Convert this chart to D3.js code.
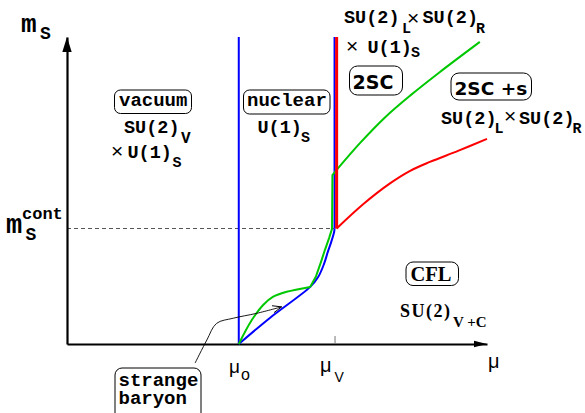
<!DOCTYPE html>
<html>
<head>
<meta charset="utf-8">
<script src="https://cdn.jsdelivr.net/npm/d3@7/dist/d3.min.js"></script>
<style>
  html, body { margin: 0; padding: 0; background: #fff; }
  svg { display: block; }
</style>
</head>
<body>
<svg id="chart" width="585" height="413"></svg>
<script>
// ---------- data (arbitrary units: mu and m_s both on 0..100) ----------
const mu0 = 40.9;          // μ_o
const muV = 63.7;          // μ_V
const mCont = 37.6;        // m_s^cont

const blueBoundary = [[40.9,0],[48.3,8.5],[57.9,18.6],[59.8,21.8],[61.2,26.1],[62.1,30.0],[62.9,33.2],[63.6,36.5],[63.7,37.6]];
const blueVertical = [[63.7,37.6],[63.7,100]];
const blueMu0 = [[40.9,0],[40.9,100]];

const greenLow  = [[40.9,0],[44.0,7.8],[46.7,12.7],[49.1,15.4],[52.3,17.0],[57.9,18.6]];
const greenMid  = [[57.9,18.6],[59.3,22.1],[60.4,26.4],[61.4,30.6],[62.4,34.5],[63.1,37.5],[63.2,55.0],[64.2,56.7]];
const greenHigh = [[64.2,56.7],[69.8,65.5],[75.7,73.8],[81.7,80.9],[88.8,88.6],[98.3,98.4]];

const redVertical = [[64.2,37.6],[64.2,100]];
const redCurve = [[64.2,37.6],[70.5,45.5],[76.9,52.3],[81.7,56.4],[86.4,59.3],[93.1,62.9],[100,66.8]];

const strangeArrow = [[30.5,-6.2],[33.3,1.3],[35.6,6.7],[39.6,8.4],[45.2,10.0],[51.1,12.1]];

const xTickValues = [muV];

// ---------- setup ----------
const svg = d3.select("#chart");
const x = d3.scaleLinear().domain([0,100]).range([67,487]);
const y = d3.scaleLinear().domain([0,100]).range([344,37]);

const MONO = "'Liberation Mono','DejaVu Sans Mono',monospace";
const SANS = "'Liberation Sans',Arial,sans-serif";
const DSANS = "'DejaVu Sans',sans-serif";
const SERIF = "'Liberation Serif','Times New Roman',serif";

const BLUE = "#0000ff", GREEN = "#00c800", RED = "#ff0000";

const lineLin = d3.line().x(d => x(d[0])).y(d => y(d[1]));
const lineSmooth = d3.line().x(d => x(d[0])).y(d => y(d[1])).curve(d3.curveCatmullRom.alpha(0.5));

// dashed m_s^cont line
svg.append("line")
  .attr("x1", x(0)).attr("x2", x(muV))
  .attr("y1", y(mCont)).attr("y2", y(mCont))
  .attr("stroke", "#555").attr("stroke-width", 1.1).attr("stroke-dasharray", "4,3");

// axes
const xAxis = d3.axisBottom(x).tickValues(xTickValues).tickSizeInner(-8).tickSizeOuter(0).tickFormat("");
const gx = svg.append("g").attr("transform", `translate(0,${y(0)})`).call(xAxis);
gx.select(".domain").attr("stroke", "#000").attr("stroke-width", 2.2);
gx.selectAll(".tick line").attr("stroke", "#777").attr("stroke-width", 1);

const yAxis = d3.axisLeft(y).tickValues([]).tickSizeOuter(0);
const gy = svg.append("g").attr("transform", `translate(${x(0)},0)`).call(yAxis);
gy.select(".domain").attr("stroke", "#000").attr("stroke-width", 2.2);

// arrowheads
svg.append("path")
  .attr("d", `M${x(100)},${y(0)} L${x(100)-13},${y(0)-3.2} L${x(100)-13},${y(0)+3.2} Z`)
  .attr("fill", "#000");
svg.append("path")
  .attr("d", `M${x(0)},${y(100)} L${x(0)-4.7},${y(100)+15} L${x(0)+4.7},${y(100)+15} Z`)
  .attr("fill", "#000");

// phase boundaries
svg.append("path").attr("d", lineLin(blueMu0)).attr("fill","none").attr("stroke",BLUE).attr("stroke-width",2);
svg.append("path").attr("d", lineSmooth(blueBoundary)).attr("fill","none").attr("stroke",BLUE).attr("stroke-width",2);
svg.append("path").attr("d", lineLin(blueVertical)).attr("fill","none").attr("stroke",BLUE).attr("stroke-width",2);

svg.append("path").attr("d", lineSmooth(greenLow)).attr("fill","none").attr("stroke",GREEN).attr("stroke-width",2);
svg.append("path").attr("d", lineLin(greenMid)).attr("fill","none").attr("stroke",GREEN).attr("stroke-width",2);
svg.append("path").attr("d", lineSmooth(greenHigh)).attr("fill","none").attr("stroke",GREEN).attr("stroke-width",2);

svg.append("path").attr("d", lineLin(redVertical)).attr("fill","none").attr("stroke",RED).attr("stroke-width",3);
svg.append("path").attr("d", lineSmooth(redCurve)).attr("fill","none").attr("stroke",RED).attr("stroke-width",2);

// strange baryon arrow
svg.append("defs").append("marker")
  .attr("id","openArrow").attr("viewBox","0 0 10 10").attr("refX",10).attr("refY",5)
  .attr("markerWidth",9).attr("markerHeight",9).attr("markerUnits","userSpaceOnUse")
  .attr("orient","auto")
  .append("path").attr("d","M0,1 L10,5 L0,9").attr("fill","none").attr("stroke","#000").attr("stroke-width",1);
svg.append("path").attr("d", lineSmooth(strangeArrow)).attr("fill","none")
  .attr("stroke","#000").attr("stroke-width",0.9).attr("marker-end","url(#openArrow)");

// ---------- labels ----------
function box(x0, y0, w, h, r) {
  svg.append("rect").attr("x",x0).attr("y",y0).attr("width",w).attr("height",h)
    .attr("rx",r).attr("ry",r).attr("fill","#fff").attr("stroke","#000").attr("stroke-width",1);
}
// one <text> per label; each part: [text, x, y, size, family, weight, letterSpacing]
function label(parts) {
  const t = svg.append("text").attr("fill","#000");
  parts.forEach(p => {
    const s = t.append("tspan").attr("x",p[1]).attr("y",p[2]).text(p[0])
      .attr("font-size",p[3]).attr("font-family",p[4]).attr("font-weight",p[5]||"normal");
    if (p[6]) s.attr("letter-spacing", p[6]);
  });
  return t;
}

// axis titles
label([["m", 21, 32, 26, MONO, "bold"], ["S", 40, 39, 18, MONO, "bold"]]);
label([["m", 6, 233, 27, MONO, "bold"], ["S", 25.5, 239.5, 18, MONO, "bold"], ["cont", 22, 218.5, 17, MONO, "bold"]]);

label([["μ", 229, 372.5, 19, SANS], ["o", 241, 380, 16, SANS]]);
label([["μ", 320, 372, 20, SANS], ["V", 334.5, 381.7, 14, SANS]]);
label([["μ", 488, 368, 20, SANS]]);

// vacuum
box(114.5, 90, 77, 23.5, 6);
label([["vacuum", 119, 106, 19, MONO, "bold"]]);
label([["SU(2)", 124, 133.3, 18.5, MONO, "bold"], ["V", 181, 143.3, 16, MONO, "bold"],
       ["×", 111, 158.3, 21, SANS], ["U(1)", 127.5, 158.3, 18.5, MONO, "bold"], ["S", 172.5, 166.7, 15, MONO, "bold"]]);

// nuclear
box(243.5, 90, 86.5, 24, 6);
label([["nuclear", 247, 106, 19, MONO, "bold"]]);
label([["U(1)", 257.5, 133.3, 18.5, MONO, "bold"], ["S", 301, 141.7, 15, MONO, "bold"]]);

// top-right group
label([["SU(2)", 344, 23.3, 18.5, MONO, "bold"], ["L", 402, 33.3, 15, MONO, "bold"],
       ["×", 407, 24.5, 21, SANS], ["SU(2)", 422.5, 23.3, 18.5, MONO, "bold"], ["R", 476, 33.3, 15, MONO, "bold"],
       ["×", 346, 52.5, 21, SANS], ["U(1)", 367.5, 53.3, 18.5, MONO, "bold"], ["S", 411, 56.7, 15, MONO, "bold"]]);

// 2SC
box(349.5, 66, 53, 29, 8);
label([["2SC", 352.5, 88.5, 19, DSANS, "bold"]]);
// 2SC+s
box(451, 73, 80.5, 27, 8);
label([["2SC +s", 454.5, 95.3, 18.5, DSANS, "bold"]]);
label([["SU(2)", 441, 124, 18.5, MONO, "bold"], ["L", 494.5, 132.7, 15, MONO, "bold"],
       ["×", 504, 123, 21, SANS], ["SU(2)", 519, 124, 18.5, MONO, "bold"], ["R", 572.5, 132.7, 15, MONO, "bold"]]);

// CFL
box(406, 262, 52.5, 23.5, 7);
label([["CFL", 410.5, 280.5, 20.5, SERIF, "bold"]]);
label([["SU(2)", 400, 317, 18, SERIF, "bold", 1.5], ["V +C", 453, 327, 15, SERIF, "bold"]]);

// strange baryon
box(115, 368, 86, 60, 7);
label([["strange", 118.5, 386, 19, MONO, "bold"], ["baryon", 118.5, 404, 19, MONO, "bold"]]);
</script>
</body>
</html>
